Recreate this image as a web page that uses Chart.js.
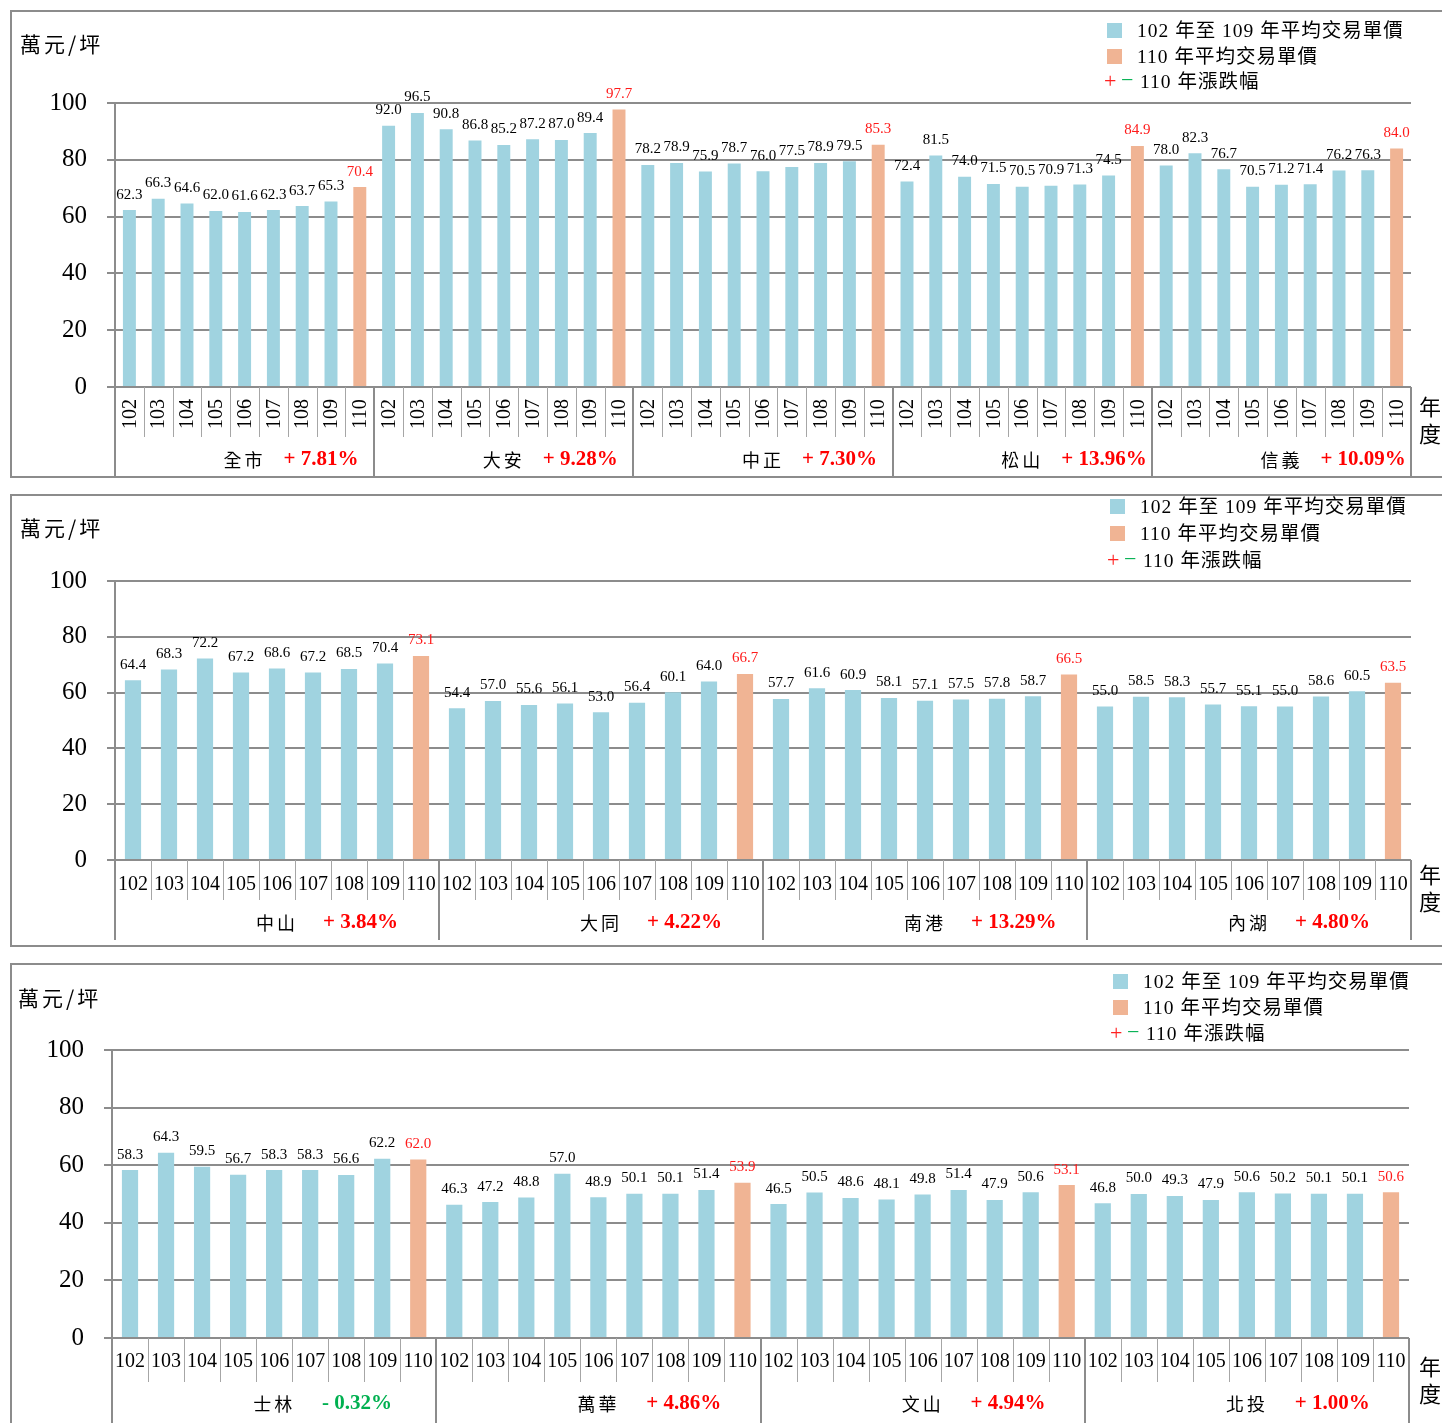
<!DOCTYPE html>
<html>
<head>
<meta charset="utf-8">
<script src="https://cdn.jsdelivr.net/npm/chart.js@4.4.1/dist/chart.umd.min.js"></script>
<style>
  body { margin: 0; width: 1442px; height: 1423px; position: relative; overflow: hidden; background: #fff;
         font-family: "Liberation Serif", "Noto Sans CJK TC", serif; color: #000; }
  .panel { position: absolute; left: 10px; width: 1445px; border: 2px solid #8c8c8c; box-sizing: border-box; }
  canvas { position: absolute; left: 0; }
  .txt { position: absolute; white-space: nowrap; }
</style>
</head>
<body>
<script>
const years = ['102', '103', '104', '105', '106', '107', '108', '109', '110'];
const yTicks = [0, 20, 40, 60, 80, 100];
const legendLabels = ['102 年至 109 年平均交易單價', '110 年平均交易單價', '110 年漲跌幅'];

const districts1 = ['全市', '大安', '中正', '松山', '信義'];
const prices1 = [
  [62.3, 66.3, 64.6, 62.0, 61.6, 62.3, 63.7, 65.3, 70.4],
  [92.0, 96.5, 90.8, 86.8, 85.2, 87.2, 87.0, 89.4, 97.7],
  [78.2, 78.9, 75.9, 78.7, 76.0, 77.5, 78.9, 79.5, 85.3],
  [72.4, 81.5, 74.0, 71.5, 70.5, 70.9, 71.3, 74.5, 84.9],
  [78.0, 82.3, 76.7, 70.5, 71.2, 71.4, 76.2, 76.3, 84.0]
];
const changes1 = ['+ 7.81%', '+ 9.28%', '+ 7.30%', '+ 13.96%', '+ 10.09%'];

const districts2 = ['中山', '大同', '南港', '內湖'];
const prices2 = [
  [64.4, 68.3, 72.2, 67.2, 68.6, 67.2, 68.5, 70.4, 73.1],
  [54.4, 57.0, 55.6, 56.1, 53.0, 56.4, 60.1, 64.0, 66.7],
  [57.7, 61.6, 60.9, 58.1, 57.1, 57.5, 57.8, 58.7, 66.5],
  [55.0, 58.5, 58.3, 55.7, 55.1, 55.0, 58.6, 60.5, 63.5]
];
const changes2 = ['+ 3.84%', '+ 4.22%', '+ 13.29%', '+ 4.80%'];

const districts3 = ['士林', '萬華', '文山', '北投'];
const prices3 = [
  [58.3, 64.3, 59.5, 56.7, 58.3, 58.3, 56.6, 62.2, 62.0],
  [46.3, 47.2, 48.8, 57.0, 48.9, 50.1, 50.1, 51.4, 53.9],
  [46.5, 50.5, 48.6, 48.1, 49.8, 51.4, 47.9, 50.6, 53.1],
  [46.8, 50.0, 49.3, 47.9, 50.6, 50.2, 50.1, 50.1, 50.6]
];
const changes3 = ['- 0.32%', '+ 4.86%', '+ 4.94%', '+ 1.00%'];

const BLUE = '#a0d3e0';
const ORANGE = '#f0b494';
const GRID = '#8c8c8c';
const CJK = '"Noto Sans CJK TC"';

// draws data labels, the two-level x axis (years + district) and separators
const districtAxis = {
  id: 'districtAxis',
  afterDraw(chart, args, opts) {
    const ctx = chart.ctx;
    const area = chart.chartArea;
    const n = chart.data.labels.length;
    const w = (area.right - area.left) / n;
    const meta = chart.getDatasetMeta(0);
    const values = chart.data.datasets[0].data;

    ctx.save();
    ctx.font = '15px "Liberation Serif"';
    ctx.textAlign = 'center';
    ctx.textBaseline = 'bottom';
    meta.data.forEach((bar, i) => {
      ctx.fillStyle = i % 9 === 8 ? '#ff1a1a' : '#000';
      ctx.fillText(values[i].toFixed(1), bar.x, bar.y - 8);
    });

    // separators
    for (let i = 0; i <= n; i++) {
      const px = Math.round(area.left + i * w);
      const isGroup = i % 9 === 0;
      ctx.strokeStyle = isGroup ? GRID : '#a6a6a6';
      ctx.lineWidth = isGroup ? 2 : 1;
      ctx.beginPath();
      ctx.moveTo(px + (isGroup ? 0 : 0.5), area.bottom);
      ctx.lineTo(px + (isGroup ? 0 : 0.5), isGroup ? opts.groupBottom : opts.yearBottom);
      ctx.stroke();
    }

    // year labels
    ctx.fillStyle = '#000';
    ctx.font = opts.yearFont;
    ctx.textBaseline = 'middle';
    chart.data.labels.forEach((lab, i) => {
      const cx = area.left + (i + 0.5) * w;
      if (opts.rotate) {
        ctx.save();
        ctx.translate(cx + 1, opts.yearY);
        ctx.rotate(-Math.PI / 2);
        ctx.fillText(lab, 0, 0);
        ctx.restore();
      } else {
        ctx.fillText(lab, cx, opts.yearY);
      }
    });

    // district names + change
    opts.districts.forEach((name, g) => {
      const center = area.left + (g * 9 + 4.5) * w;
      ctx.font = '18px ' + CJK;
      ctx.letterSpacing = '3px';
      const nw = ctx.measureText(name).width;
      ctx.textAlign = 'left';
      ctx.fillStyle = '#000';
      ctx.fillText(name, center - nw / 2, opts.distY);
      ctx.letterSpacing = '0px';
      const ch = opts.changes[g];
      ctx.font = 'bold 21px "Liberation Serif"';
      ctx.fillStyle = ch.startsWith('-') ? '#00b050' : '#ff0000';
      ctx.fillText(ch, center + nw / 2 + opts.gap, opts.distY);
    });
    ctx.restore();
  }
};

function addText(txt, left, top, css) {
  const d = document.createElement('div');
  d.className = 'txt';
  d.textContent = txt;
  d.style.left = left + 'px';
  d.style.top = top + 'px';
  d.style.cssText += css;
  document.body.appendChild(d);
  return d;
}

function makePanel(p, districts, prices, changes) {
  const box = document.createElement('div');
  box.className = 'panel';
  box.style.top = p.boxTop + 'px';
  box.style.height = p.boxH + 'px';
  document.body.appendChild(box);

  const cv = document.createElement('canvas');
  cv.width = 1442;
  cv.height = p.height;
  cv.style.top = p.top + 'px';
  document.body.appendChild(cv);

  // unit label
  addText('萬元/坪', p.unitX, p.unitY - 14, 'font-size:21px;letter-spacing:3px;line-height:28px;font-family:' + CJK + ';');

  // legend
  const sw = [BLUE, ORANGE];
  legendLabels.forEach((lab, k) => {
    const cy = p.legY + k * p.legStep;
    if (k < 2) {
      const s = document.createElement('div');
      s.style.cssText = `position:absolute;left:${p.legX}px;top:${cy - 8}px;width:15px;height:15px;background:${sw[k]};`;
      document.body.appendChild(s);
      addText(lab, p.legX + 30, cy - 13, 'font-size:19.5px;letter-spacing:1px;line-height:26px;');
    } else {
      addText('+', p.legX - 3, cy - 14, 'font-size:22px;line-height:26px;color:#ff2020;');
      addText('−', p.legX + 14, cy - 15, 'font-size:22px;line-height:26px;color:#00b050;');
      addText(lab, p.legX + 33, cy - 13, 'font-size:19.5px;letter-spacing:1px;line-height:26px;');
    }
  });

  // 年度
  addText('年', 1419, p.ndY - 14, 'font-size:22px;line-height:28px;font-family:' + CJK + ';');
  addText('度', 1419, p.ndY + 13, 'font-size:22px;line-height:28px;font-family:' + CJK + ';');

  const labels = [];
  const values = [];
  const colors = [];
  districts.forEach((d, g) => {
    years.forEach((y, i) => {
      labels.push(y);
      values.push(prices[g][i]);
      colors.push(i === 8 ? ORANGE : BLUE);
    });
  });

  new Chart(cv, {
    type: 'bar',
    data: {
      labels,
      datasets: [{ data: values, backgroundColor: colors, barPercentage: 0.9, categoryPercentage: 0.5 }]
    },
    options: {
      responsive: false,
      animation: false,
      layout: { padding: { top: p.padTop, bottom: p.padBottom, right: p.padRight, left: 0 } },
      plugins: {
        legend: { display: false },
        tooltip: { enabled: false },
        districtAxis: {
          districts, changes,
          rotate: p.rotate, gap: p.gap,
          yearFont: p.yearFont,
          yearY: p.yearY, yearBottom: p.yearBottom, groupBottom: p.groupBottom, distY: p.distY
        }
      },
      scales: {
        x: { display: false },
        y: {
          min: 0, max: 100,
          afterBuildTicks: (s) => { s.ticks = yTicks.map(v => ({ value: v })); },
          afterFit: (s) => { s.width = p.axisW; },
          ticks: { color: '#000', padding: 20, font: { family: 'Liberation Serif', size: 25 } },
          grid: { color: GRID, lineWidth: 2, tickLength: 8 },
          border: { color: GRID, width: 2 }
        }
      }
    },
    plugins: [districtAxis]
  });
}

makePanel({
  top: 0, height: 480, boxTop: 10, boxH: 468,
  axisW: 115, padTop: 103, padBottom: 93, padRight: 31,
  rotate: true, gap: 18, yearFont: '20px "Liberation Serif"',
  yearY: 414, yearBottom: 437, groupBottom: 477, distY: 460,
  unitX: 20, unitY: 43, legX: 1107, legY: 31, legStep: 25.5, ndY: 405
}, districts1, prices1, changes1);

makePanel({
  top: 480, height: 480, boxTop: 494, boxH: 453,
  axisW: 115, padTop: 101, padBottom: 100, padRight: 31,
  rotate: false, gap: 25, yearFont: '20px "Liberation Serif"',
  yearY: 405, yearBottom: 420, groupBottom: 460, distY: 443,
  unitX: 20, unitY: 527, legX: 1110, legY: 507, legStep: 27, ndY: 873
}, districts2, prices2, changes2);

makePanel({
  top: 955, height: 468, boxTop: 963, boxH: 480,
  axisW: 112, padTop: 95, padBottom: 85, padRight: 33,
  rotate: false, gap: 27, yearFont: '20px "Liberation Serif"',
  yearY: 407, yearBottom: 427, groupBottom: 468, distY: 449,
  unitX: 18, unitY: 997, legX: 1113, legY: 982, legStep: 26, ndY: 1365
}, districts3, prices3, changes3);
</script>
</body>
</html>
